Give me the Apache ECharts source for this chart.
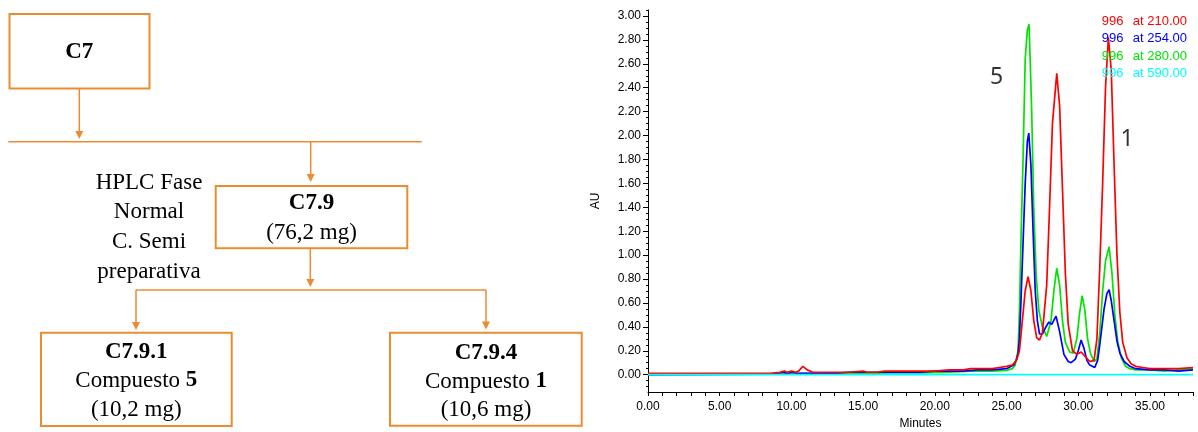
<!DOCTYPE html>
<html><head><meta charset="utf-8">
<script src="https://cdn.jsdelivr.net/npm/echarts@6/dist/echarts.min.js"></script>
<style>html,body{margin:0;padding:0;background:#fff}#c{width:1198px;height:432px}</style>
</head><body><div id="c"></div>
<script>
// ---------------- DATA ----------------
const sampleId = '996';
const wavelengths = ['210.00', '254.00', '280.00', '590.00'];
const xTickLabels = [0, 5, 10, 15, 20, 25, 30, 35];
const yTickLabels = [0, 0.2, 0.4, 0.6, 0.8, 1.0, 1.2, 1.4, 1.6, 1.8, 2.0, 2.2, 2.4, 2.6, 2.8, 3.0];

// 210 nm (red)
const redT = [0, 8.5, 9.2, 9.5, 9.7, 10.0, 10.3, 10.5, 10.8, 11.1, 11.5, 13, 14, 15, 15.3, 16, 16.5, 17, 18, 19,
  20, 21, 22, 22.5, 23, 24, 24.5, 25, 25.4, 25.7, 25.9, 26.1, 26.3, 26.5, 26.7, 26.9, 27.1, 27.3, 27.5, 27.8,
  28.0, 28.2, 28.5, 28.7, 28.9, 29.1, 29.3, 29.6, 29.9, 30.2, 30.5, 30.8, 31.1, 31.3, 31.5, 31.7, 31.9, 32.1, 32.3, 32.5,
  32.7, 32.9, 33.1, 33.4, 33.7, 34.0, 34.5, 35, 36, 37, 38];
const redV = [0.01, 0.01, 0.02, 0.03, 0.02, 0.03, 0.02, 0.03, 0.07, 0.04, 0.02, 0.02, 0.02, 0.03, 0.02, 0.02, 0.03, 0.03, 0.03, 0.03,
  0.03, 0.04, 0.04, 0.05, 0.05, 0.05, 0.06, 0.07, 0.08, 0.12, 0.20, 0.45, 0.70, 0.82, 0.70, 0.45, 0.31, 0.29, 0.35, 0.75,
  1.40, 2.10, 2.52, 2.25, 1.55, 0.85, 0.42, 0.20, 0.17, 0.19, 0.15, 0.11, 0.12, 0.30, 0.90, 1.60, 2.40, 2.82, 2.55, 1.75,
  1.00, 0.52, 0.27, 0.14, 0.09, 0.07, 0.06, 0.05, 0.05, 0.05, 0.06];

// 254 nm (blue)
const blueT = [0, 8.5, 9.5, 9.7, 10.0, 10.5, 11, 12, 13, 14, 15, 16, 17, 18, 19, 20, 21, 22, 23, 24,
  25, 25.5, 25.7, 25.8, 25.9, 26.0, 26.15, 26.3, 26.45, 26.55, 26.7, 26.85, 27.0, 27.15, 27.3, 27.5, 27.7, 27.95, 28.15, 28.45,
  28.7, 29.0, 29.3, 29.5, 29.8, 30.0, 30.2, 30.4, 30.6, 30.8, 31.15, 31.35, 31.5, 31.65, 31.8, 32.0, 32.15, 32.3, 32.5, 32.7,
  32.9, 33.2, 33.6, 34, 35, 36, 37, 38];
const blueV = [0, 0.005, 0.02, 0.005, 0.02, 0.01, 0.01, 0.01, 0.01, 0.02, 0.02, 0.02, 0.02, 0.02, 0.02, 0.03, 0.03, 0.03, 0.04, 0.04,
  0.05, 0.08, 0.13, 0.18, 0.30, 0.60, 1.10, 1.60, 1.95, 2.02, 1.75, 1.20, 0.70, 0.45, 0.34, 0.34, 0.39, 0.44, 0.42, 0.49,
  0.36, 0.17, 0.11, 0.10, 0.13, 0.20, 0.29, 0.22, 0.12, 0.08, 0.06, 0.12, 0.25, 0.40, 0.55, 0.68, 0.71, 0.62, 0.45, 0.28,
  0.18, 0.11, 0.07, 0.05, 0.04, 0.04, 0.03, 0.04];

// 280 nm (green)
const greenT = [0, 8.5, 10, 12, 13.5, 15, 17, 19, 21, 22.5, 24, 25, 25.4, 25.6, 25.8, 25.9, 26.0, 26.15, 26.3, 26.45,
  26.57, 26.75, 26.9, 27.07, 27.25, 27.5, 27.8, 28.1, 28.3, 28.5, 28.7, 28.9, 29.1, 29.4, 29.65, 29.9, 30.1, 30.27, 30.45, 30.65,
  30.85, 31.1, 31.3, 31.5, 31.7, 31.9, 32.15, 32.35, 32.55, 32.75, 33.0, 33.3, 33.6, 34, 35, 36, 37, 38];
const greenV = [0, 0.005, 0.01, 0.01, 0.01, 0.01, 0.015, 0.015, 0.02, 0.03, 0.03, 0.035, 0.05, 0.08, 0.20, 0.54, 1.10, 1.80, 2.64, 2.88,
  2.93, 2.22, 1.38, 0.82, 0.54, 0.40, 0.32, 0.45, 0.70, 0.89, 0.75, 0.45, 0.27, 0.19, 0.18, 0.30, 0.52, 0.66, 0.55, 0.30,
  0.18, 0.11, 0.13, 0.35, 0.70, 0.95, 1.07, 0.85, 0.50, 0.28, 0.14, 0.07, 0.05, 0.04, 0.04, 0.03, 0.04, 0.05];

// 590 nm (cyan)
const cyanT = [0, 38];
const cyanV = [0, 0];

// peak annotations (data space)
const peakNames = ['5', '1'];
const peakAt = [[24.3, 2.49], [33.4, 1.97]];

// ---------------- CHART ----------------
const colors = ['#ff0000', '#0000ff', '#00e400', '#00ffff'];
const names = wavelengths.map(w => sampleId + ' at ' + w);
const zip = (t, v) => t.map((x, i) => [x, v[i]]);
const seriesData = [zip(redT, redV), zip(blueT, blueV), zip(greenT, greenV), zip(cyanT, cyanV)];
const drawOrder = [2, 1, 0, 3];

const minuteTicks = [];
for (let m = 0; m <= 38; m++) minuteTicks.push(m);
const yMinor = [];
for (let k = -2; k <= 61; k++) yMinor.push(+(k * 0.05).toFixed(2));

const ORANGE = '#ED8B30';
const SERIF = '"Liberation Serif", "Times New Roman", serif';
const boxes = [
  { x: 9.5, y: 14, w: 140, h: 74.5 },
  { x: 215.7, y: 186, w: 191.6, h: 62.3 },
  { x: 41, y: 332.7, w: 190.7, h: 93.3 },
  { x: 390, y: 332.7, w: 191.7, h: 93 }
];
const links = [
  { x1: 79.3, y1: 88.5, x2: 79.3, y2: 139, arrow: true },
  { x1: 8.3, y1: 141.7, x2: 421.7, y2: 141.7 },
  { x1: 310.7, y1: 141.7, x2: 310.7, y2: 182, arrow: true },
  { x1: 310.3, y1: 248.3, x2: 310.3, y2: 287, arrow: true },
  { x1: 136, y1: 290, x2: 486, y2: 290 },
  { x1: 136, y1: 290, x2: 136, y2: 330, arrow: true },
  { x1: 486, y1: 290, x2: 486, y2: 329.5, arrow: true }
];
const texts = [
  { t: 'C7', x: 79.3, y: 52, b: true },
  { t: 'C7.9', x: 311.5, y: 203.3, b: true },
  { t: '(76,2 mg)', x: 311.5, y: 233.3 },
  { t: 'HPLC Fase', x: 149, y: 183.3 },
  { t: 'Normal', x: 149, y: 212.3 },
  { t: 'C. Semi', x: 149, y: 242.3 },
  { t: 'preparativa', x: 149, y: 271.7 },
  { t: 'C7.9.1', x: 136.3, y: 352, b: true },
  { t: '{n|Compuesto }{b|5}', x: 136.3, y: 380.5 },
  { t: '(10,2 mg)', x: 136.3, y: 410 },
  { t: 'C7.9.4', x: 486, y: 353, b: true },
  { t: '{n|Compuesto }{b|1}', x: 486, y: 381.5 },
  { t: '(10,6 mg)', x: 486, y: 410 }
];

const graphic = [];
boxes.forEach(b => graphic.push({
  type: 'rect', shape: { x: b.x, y: b.y, width: b.w, height: b.h },
  style: { fill: 'transparent', stroke: ORANGE, lineWidth: 2 }
}));
links.forEach(l => {
  const endY = l.arrow ? l.y2 - 7 : l.y2;
  graphic.push({ type: 'line', shape: { x1: l.x1, y1: l.y1, x2: l.x2, y2: endY }, style: { stroke: ORANGE, lineWidth: 1.5 } });
  if (l.arrow) graphic.push({
    type: 'polygon', shape: { points: [[l.x2 - 4, l.y2 - 8], [l.x2 + 4, l.y2 - 8], [l.x2, l.y2]] },
    style: { fill: ORANGE }
  });
});
texts.forEach(t => graphic.push({
  type: 'text', x: t.x, y: t.y,
  style: {
    text: t.t, align: 'center', verticalAlign: 'middle', fill: '#000',
    fontFamily: SERIF, fontSize: 23, fontWeight: t.b ? 'bold' : 'normal',
    rich: {
      n: { fontFamily: SERIF, fontSize: 23, fill: '#000' },
      b: { fontFamily: SERIF, fontSize: 23, fontWeight: 'bold', fill: '#000' }
    }
  }
}));

const axisFont = { color: '#000', fontSize: 12, fontFamily: '"Liberation Sans", Arial, sans-serif' };

const series = drawOrder.map(i => ({
  type: 'line', name: names[i], data: seriesData[i],
  showSymbol: false, symbol: 'none', smooth: false,
  lineStyle: { color: colors[i], width: 1.7 }, itemStyle: { color: colors[i] },
  xAxisIndex: 0, yAxisIndex: 0
}));
series.push({
  type: 'scatter', name: 'peaks', data: peakAt.map((p, i) => ({ value: p, name: peakNames[i] })),
  symbolSize: 0, silent: true,
  label: { show: true, position: 'inside', formatter: p => p.name, color: '#000', fontSize: 23,
    fontFamily: '"Noto Sans", "Open Sans", sans-serif' }
});

const chart = echarts.init(document.getElementById('c'), null, { renderer: 'canvas' });
chart.setOption({
  animation: false,
  backgroundColor: '#fff',
  graphic: graphic,
  legend: {
    data: names.map((n, i) => ({ name: n, textStyle: { color: colors[i] } })),
    orient: 'vertical', right: 6, top: 9, itemGap: 3.6, itemWidth: 0, itemHeight: 0, icon: 'none',
    selectedMode: false, padding: 5,
    textStyle: { fontSize: 13, lineHeight: 14, fontFamily: '"Liberation Sans", Arial, sans-serif',
      rich: { id: { width: 31, fontSize: 13, fontFamily: '"Liberation Sans", Arial, sans-serif' },
              wl: { fontSize: 13, fontFamily: '"Liberation Sans", Arial, sans-serif' } } },
    formatter: n => { const parts = n.split(' at '); return '{id|' + parts[0] + '}{wl|at ' + parts[1] + '}'; }
  },
  grid: { left: 648, right: 5, top: 10, bottom: 40, containLabel: false, outerBoundsMode: 'none' },
  xAxis: {
    type: 'value', min: 0, max: 38,
    axisLine: { onZero: false, lineStyle: { color: '#000', width: 1 } },
    axisTick: { show: true, length: 4, customValues: minuteTicks, lineStyle: { color: '#000' } },
    axisLabel: Object.assign({ customValues: xTickLabels, formatter: v => v.toFixed(2), margin: 9 }, axisFont),
    splitLine: { show: false },
    name: 'Minutes', nameLocation: 'middle', nameGap: 26, nameTextStyle: axisFont
  },
  yAxis: [{
    type: 'value', min: -0.145, max: 3.05, position: 'left',
    axisLine: { show: true, lineStyle: { color: '#000', width: 1 } },
    axisTick: { show: true, length: 5, customValues: yTickLabels, lineStyle: { color: '#000' } },
    axisLabel: Object.assign({ customValues: yTickLabels, formatter: v => v.toFixed(2), margin: 7 }, axisFont),
    splitLine: { show: false },
    name: 'AU', nameLocation: 'middle', nameGap: 46, nameTextStyle: axisFont
  }, {
    type: 'value', min: -0.145, max: 3.05, position: 'left',
    axisLine: { show: false },
    axisTick: { show: true, length: 2, customValues: yMinor, lineStyle: { color: '#000' } },
    axisLabel: { show: false }, splitLine: { show: false }
  }],
  series: series
});
</script></body></html>
